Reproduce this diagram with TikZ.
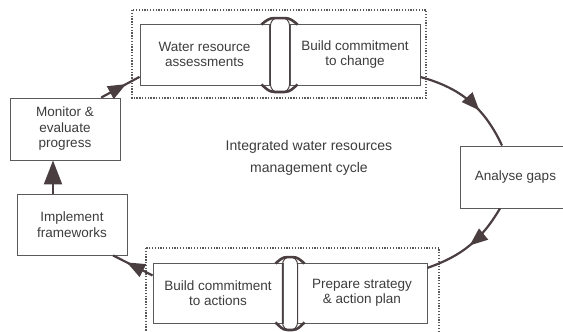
\documentclass[tikz,border=0pt]{standalone}
\usepackage{fontspec}
\setmainfont{Liberation Sans}
\usetikzlibrary{arrows.meta,decorations.markings,calc}
\definecolor{arr}{HTML}{4A3E40}
\definecolor{bx}{HTML}{5A5A5A}
\definecolor{tx}{HTML}{3C3C3C}
\begin{document}
\begin{tikzpicture}[x=1pt,y=-1pt,
 box/.style={draw=bx,line width=0.9pt,rectangle,inner sep=0pt,align=center,text=tx,font=\fontsize{13.5}{15.5}\selectfont},
 flow/.style={draw=arr,line width=2.2pt},
 midarrow/.style={postaction={decorate},decoration={markings,mark=at position #1 with {\arrow{Triangle[length=18pt,width=14pt]}}}},
 dotbox/.style={draw=bx,line width=1.3pt,dash pattern=on 1.3pt off 1.5pt},
 loopc/.style={draw=arr,line width=1pt},
 wing/.style={draw=arr,line width=2.6pt}]
\useasboundingbox (0,0) rectangle (563,332);
\clip (0,0) rectangle (563,332);
% dotted group frames
\draw[dotbox] (132,10) rectangle (426,98);
\draw[dotbox] (146,248) rectangle (439,345);
% boxes
\node[box,minimum width=129pt,minimum height=61pt] (wra) at (204.5,54.5) {Water resource\\assessments};
\node[box,minimum width=130pt,minimum height=61pt] (bcc) at (355,54.5) {Build commitment\\to change};
\node[box,minimum width=111pt,minimum height=62pt] (ag) at (515.5,177) {Analyse gaps};
\node[box,minimum width=130pt,minimum height=60pt] (psa) at (362,293) {Prepare strategy\\\& action plan};
\node[box,minimum width=130pt,minimum height=60pt] (bca) at (218,293) {Build commitment\\to actions};
\node[box,minimum width=110pt,minimum height=61pt] (impl) at (72,224.5) {Implement\\frameworks};
\node[box,minimum width=110pt,minimum height=62pt] (mon) at (65,129) {Monitor \&\\evaluate\\progress};
\node[text=tx,font=\fontsize{14}{22}\selectfont,align=center] (title) at (309,158) {Integrated water resources\\management cycle};
% loops between paired boxes (top)
\draw[loopc,rounded corners=8] ($(wra.north east)+(1,-6)$) rectangle ($(bcc.south west)+(0,7)$);
\draw[wing] ($(wra.north east)+(-8,1)$) to[out=40,in=180] ($(wra.north east)+(5,-5.5)$) -- ($(bcc.north west)+(-5,-5.5)$) to[out=0,in=140] ($(bcc.north west)+(8,1)$);
\draw[wing] ($(wra.south east)+(-8,-1)$) to[out=-40,in=180] ($(wra.south east)+(5,6.5)$) -- ($(bcc.south west)+(-5,6.5)$) to[out=0,in=-140] ($(bcc.south west)+(8,-1)$);
% loops (bottom)
\draw[loopc,rounded corners=8] ($(bca.north east)+(-1,-6)$) rectangle ($(psa.south west)+(1,7)$);
\draw[wing] ($(bca.north east)+(-8,1)$) to[out=40,in=180] ($(bca.north east)+(4,-5.5)$) -- ($(psa.north west)+(-4,-5.5)$) to[out=0,in=140] ($(psa.north west)+(8,1)$);
\draw[wing] ($(bca.south east)+(-8,-1)$) to[out=-40,in=180] ($(bca.south east)+(4,6.5)$) -- ($(psa.south west)+(-4,6.5)$) to[out=0,in=-140] ($(psa.south west)+(8,-1)$);
% cycle arrows
\draw[flow,midarrow=0.62] (bcc.-19) to[bend left=25] ($(ag.north)+(-13.5,0)$);
\draw[flow,midarrow=0.5] ($(ag.south)+(-15.5,0)$) to[bend left=20] (psa.21);
\draw[flow,midarrow=0.65] (bca.165) -- (impl.-37);
\draw[flow,-{Triangle[length=24pt,width=18pt]}] ($(impl.north)+(-19,0)$) -- ($(mon.south)+(-12,0)$);
\draw[flow,midarrow=0.65] (mon.41) -- (wra.199);
\end{tikzpicture}
\end{document}
